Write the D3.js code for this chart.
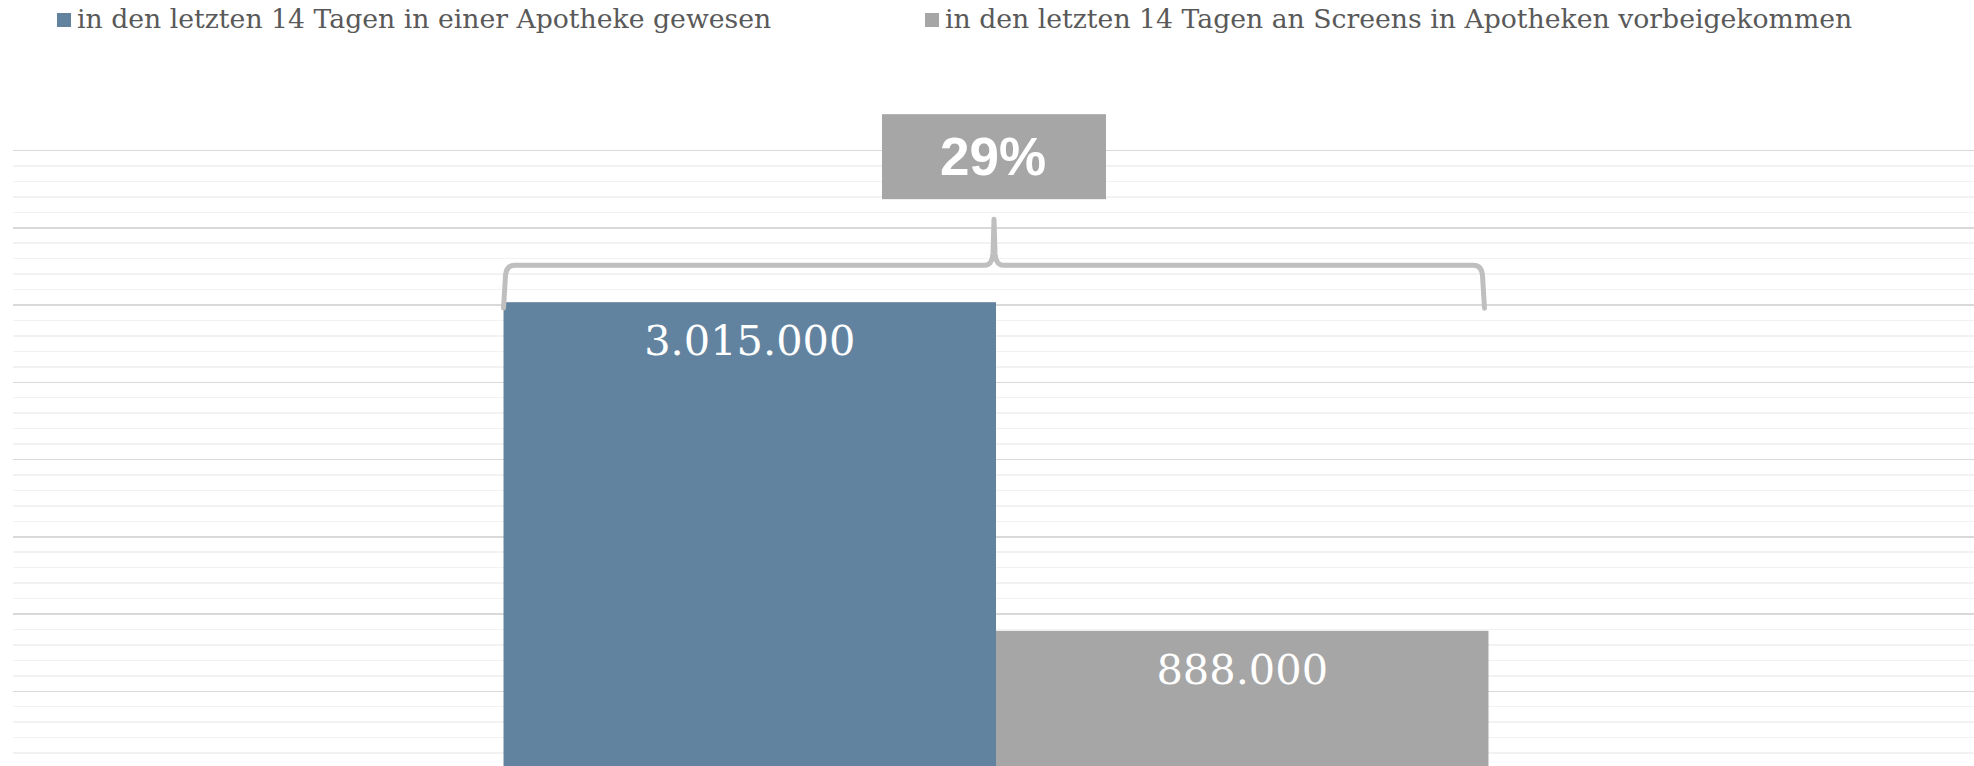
<!DOCTYPE html>
<html>
<head>
<meta charset="utf-8">
<script src="https://cdn.jsdelivr.net/npm/d3@7"></script>
<style>
  body { margin: 0; background: #fff; }
  svg { display: block; }
  .grid line { shape-rendering: crispEdges; }
  .grid .domain { display: none; }
</style>
</head>
<body>
<svg id="chart"></svg>
<script>
// data
var categories = ["Apotheke"];
var seriesNames = [
  "in den letzten 14 Tagen in einer Apotheke gewesen",
  "in den letzten 14 Tagen an Screens in Apotheken vorbeigekommen"
];
var seriesValues = [3015000, 888000];
var seriesColors = ["#62839f", "#a6a6a6"];
var yMax = 4000000;
var majorStep = 500000;
var minorStep = 100000;

var W = 1974, H = 766;
var margin = {top: 150, right: -5, bottom: -2, left: 13};
var width = W - margin.left - margin.right,
    height = H - margin.top - margin.bottom;

var de = d3.formatLocale({decimal: ",", thousands: ".", grouping: [3], currency: ["", " €"]});
var fmt = de.format(",d");
var pct = d3.format(".0%");

var svg = d3.select("#chart")
    .attr("width", W)
    .attr("height", H);

var g = svg.append("g")
    .attr("transform", "translate(" + margin.left + "," + margin.top + ")");

var x0 = d3.scaleBand()
    .domain(categories)
    .range([0, width])
    .paddingOuter(0.498)
    .paddingInner(0);

var x1 = d3.scaleBand()
    .domain(seriesNames)
    .range([0, x0.bandwidth()])
    .padding(0);

var y = d3.scaleLinear()
    .domain([0, yMax])
    .range([height, 0]);

/** gridlines **/
g.append("g")
    .attr("class", "grid minor")
    .call(d3.axisRight(y).tickValues(d3.range(0, yMax + 1, minorStep)).tickSize(width).tickFormat(""))
    .selectAll("line")
    .attr("stroke", "#f2f2f2")
    .attr("stroke-width", 1.5);

g.append("g")
    .attr("class", "grid major")
    .call(d3.axisRight(y).tickValues(d3.range(0, yMax + 1, majorStep)).tickSize(width).tickFormat(""))
    .selectAll("line")
    .attr("stroke", "#d9d9d9")
    .attr("stroke-width", 1.5);

/** bars **/
var bars = seriesNames.map(function(s, i) {
  return {cat: categories[0], name: s, value: seriesValues[i], color: seriesColors[i]};
});

var grp = g.append("g")
    .attr("transform", "translate(" + x0(categories[0]) + ",0)");

grp.selectAll(".bar")
    .data(bars)
    .enter()
    .append("rect")
    .attr("class", "bar")
    .attr("x", function(d) { return x1(d.name); })
    .attr("y", function(d) { return y(d.value); })
    .attr("width", x1.bandwidth())
    .attr("height", function(d) { return height - y(d.value); })
    .attr("fill", function(d) { return d.color; });

grp.selectAll(".val")
    .data(bars)
    .enter()
    .append("text")
    .attr("class", "val")
    .attr("x", function(d) { return x1(d.name) + x1.bandwidth() / 2; })
    .attr("y", function(d) { return y(d.value) + 53; })
    .attr("text-anchor", "middle")
    .style("font-family", "'DejaVu Serif', serif")
    .style("font-size", "41.5px")
    .style("fill", "#fff")
    .text(function(d) { return fmt(d.value); });

/** brace + share box **/
var bL = x0(categories[0]) + 1, bR = x0(categories[0]) + x0.bandwidth() - 5, bC = (bL + bR) / 2;
var topY = y(d3.max(seriesValues));
var yb = topY + 6, yh = topY - 37, yt = topY - 83;

var brace = "M" + (bL - 1) + "," + yb +
  " L" + (bL + 1) + "," + (yh + 10) +
  " Q" + (bL + 2) + "," + yh + " " + (bL + 10) + "," + yh +
  " L" + (bC - 9) + "," + yh +
  " Q" + (bC - 2) + "," + yh + " " + (bC - 1) + "," + (yh - 12) +
  " L" + bC + "," + yt +
  " L" + (bC + 1) + "," + (yh - 12) +
  " Q" + (bC + 2) + "," + yh + " " + (bC + 9) + "," + yh +
  " L" + (bR - 10) + "," + yh +
  " Q" + (bR - 2) + "," + yh + " " + (bR - 1) + "," + (yh + 10) +
  " L" + (bR + 1) + "," + yb;

g.append("path")
    .attr("d", brace)
    .attr("fill", "none")
    .attr("stroke", "#bfbfbf")
    .attr("stroke-width", 5)
    .attr("stroke-linecap", "round")
    .attr("stroke-linejoin", "round");

var boxW = 224, boxH = 85;
g.append("rect")
    .attr("x", bC - boxW / 2)
    .attr("y", topY - 188)
    .attr("width", boxW)
    .attr("height", boxH)
    .attr("fill", "#a6a6a6");

g.append("text")
    .attr("x", bC - 1)
    .attr("y", topY - 127)
    .attr("text-anchor", "middle")
    .style("font-family", "'Liberation Sans', Arial, sans-serif")
    .style("font-weight", "bold")
    .style("font-size", "53px")
    .style("fill", "#fff")
    .text(pct(seriesValues[1] / seriesValues[0]));

/** legend **/
var legendX = [57, 925];
var legend = svg.append("g").attr("class", "legend");
var item = legend.selectAll("g")
    .data(bars)
    .enter()
    .append("g")
    .attr("transform", function(d, i) { return "translate(" + legendX[i] + ",0)"; });

item.append("rect")
    .attr("x", 0)
    .attr("y", 13)
    .attr("width", 14)
    .attr("height", 14)
    .attr("fill", function(d) { return d.color; });

item.append("text")
    .attr("x", 20)
    .attr("y", 28)
    .style("font-family", "'DejaVu Serif', serif")
    .style("font-size", "26.7px")
    .style("fill", "#595959")
    .text(function(d) { return d.name; });
</script>
</body>
</html>
